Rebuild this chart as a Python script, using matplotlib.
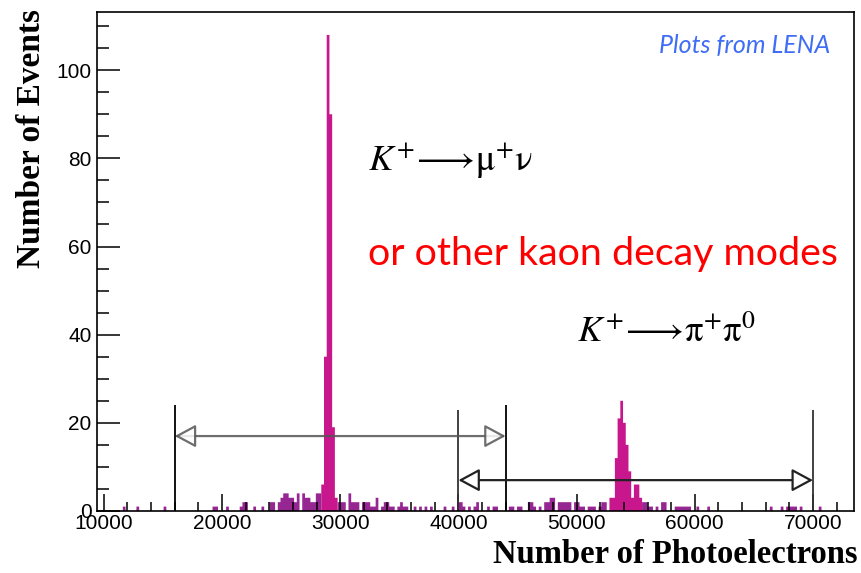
import numpy as np
import matplotlib
matplotlib.use('Agg')
import matplotlib.pyplot as plt
from matplotlib.ticker import MultipleLocator

plt.rcParams['mathtext.fontset'] = 'stix'

# histogram binning (photoelectrons)
bin_lo = 9770
bin_w = 230
bin_hi = 73700

# the two decay peaks (bin centre, events)
peak_pe = [28515, 28745, 28975, 29205, 29435, 29665,
           52895, 53125, 53355, 53585, 53815, 54045, 54275, 54505, 54735, 54965, 55195, 55425]
peak_n = [6, 35, 108, 90, 19, 3,
          3, 3, 12, 21, 25, 20, 15, 9, 3, 6, 6, 3]

# everything else, low level background
bg_pe = [11700, 12900, 15150, 19350, 19650, 20500, 21650, 21900, 22150, 22800, 23400,
         24200, 24450, 24900, 25150, 25350, 25600, 25850, 26050, 26300, 26550, 26800,
         27100, 27350, 27600, 27850, 28100, 28300,
         29900, 30150, 30400, 30750, 31050, 31300, 31550, 31850, 32100, 32400, 32700,
         32950, 33200, 33500, 33700, 34050, 34300, 34600, 34850, 35150, 35400, 35750,
         36300, 36800, 37300, 37600, 38850, 39550, 39950, 40200, 40550, 41000, 41300,
         41700, 42500, 42900, 43300, 44300, 44700, 45000, 45400, 45900, 46150, 46500,
         46900, 47300, 47550, 47900, 48150, 48450, 48700, 48950, 49200, 49450, 49900,
         50100, 50450, 50700, 51000, 51300, 51600, 51900, 52250, 52500,
         55650, 55850, 56100, 56350, 56700, 57200, 57450, 58300, 58600, 58850, 59100,
         59350, 59600, 60300, 61150, 66350, 67350, 67850, 68100, 68350, 68600, 68950,
         70650]
bg_n = [1, 1, 1, 1, 1, 1, 1, 2, 2, 1, 1,
        2, 2, 2, 3, 4, 4, 3, 3, 2, 4, 4,
        3, 3, 2, 2, 4, 4,
        2, 2, 2, 4, 2, 2, 2, 2, 2, 2, 1,
        1, 3, 1, 2, 2, 1, 1, 1, 2, 1, 1,
        1, 1, 1, 1, 1, 1, 2, 2, 1, 1, 1,
        2, 1, 1, 1, 1, 1, 1, 1, 2, 2, 1,
        1, 2, 2, 3, 3, 2, 2, 2, 2, 2, 2,
        2, 1, 1, 1, 1, 1, 1, 2, 2,
        2, 2, 1, 1, 1, 2, 2, 1, 1, 1, 1,
        1, 1, 1, 1, 1, 1, 1, 1, 1, 1, 1,
        1]

# selection windows drawn as double arrows: (start, end, height)
win_mu = (16000, 44000, 17)
win_pi = (40000, 70000, 7)
win_top = 24

edges = np.arange(bin_lo, bin_hi, bin_w)

fig = plt.figure(figsize=(8.61, 5.73), dpi=100)
ax = fig.add_axes([97/861, 1-511/573, 757/861, 499/573])

ax.hist(bg_pe, bins=edges, weights=bg_n, histtype='stepfilled', color='#962691', lw=0)
ax.hist(peak_pe, bins=edges, weights=peak_n, histtype='stepfilled', color='#C8168C', lw=0)

ax.set_xlim(9425, 73470)
ax.set_ylim(0, 113.2)

ax.xaxis.set_major_locator(MultipleLocator(10000))
ax.xaxis.set_minor_locator(MultipleLocator(2000))
ax.yaxis.set_major_locator(MultipleLocator(20))
ax.yaxis.set_minor_locator(MultipleLocator(5))
ax.tick_params(axis='both', which='both', direction='in', width=1.1, colors='black',
               labelsize=15, top=False, right=False)
ax.tick_params(axis='x', which='major', length=12, pad=2)
ax.tick_params(axis='x', which='minor', length=6.5)
ax.tick_params(axis='y', which='major', length=16.5, pad=4)
ax.tick_params(axis='y', which='minor', length=8.6)
for lab in ax.get_xticklabels() + ax.get_yticklabels():
    lab.set_family('Liberation Sans')
for sp in ax.spines.values():
    sp.set_linewidth(1.2)

ax.set_xlabel('Number of Photoelectrons', family='Liberation Serif', weight='bold',
              fontsize=23.5, loc='right')
ax.xaxis.set_label_coords(1.004, -0.056)
ax.set_ylabel('Number of Events', family='Liberation Serif', weight='bold',
              fontsize=24, loc='top')
ax.yaxis.set_label_coords(-0.0660, 1.006)

# window markers
ax.vlines([win_mu[0], win_mu[1]], 0, win_top, color='black', lw=1.3)
ax.vlines([win_pi[0], win_pi[1]], 0, win_top - 1, color='#333333', lw=1.3)
ax.annotate('', xy=(win_mu[0], win_mu[2]), xytext=(win_mu[1], win_mu[2]),
            arrowprops=dict(arrowstyle='<|-|>,head_length=1.3,head_width=0.7',
                            fc='white', ec='#555555', lw=1.6, alpha=0.85,
                            shrinkA=0, shrinkB=0))
ax.annotate('', xy=(win_pi[0], win_pi[2]), xytext=(win_pi[1], win_pi[2]),
            arrowprops=dict(arrowstyle='<|-|>,head_length=1.3,head_width=0.7',
                            fc='white', ec='#222222', lw=1.6,
                            shrinkA=0, shrinkB=0))

fig.text(368/861, 1-170/573, r'$K^{+}\!\longrightarrow\!\mathrm{\mu}^{+}\mathrm{\nu}$',
         fontsize=26.5, va='baseline', ha='left')
fig.text(577/861, 1-342/573, r'$K^{+}\!\longrightarrow\!\mathrm{\pi}^{+}\mathrm{\pi}^{0}$',
         fontsize=26.5, va='baseline', ha='left')
fig.text(368/861, 1-265/573, 'or other kaon decay modes', color='#FF0000',
         family='Lato', fontsize=28.4, va='baseline', ha='left')
fig.text(830/861, 1-53/573, 'Plots from LENA', color='#3F6DF5',
         family='Lato', style='italic', fontsize=18, va='baseline', ha='right')

fig.savefig('out.png', dpi=100)
